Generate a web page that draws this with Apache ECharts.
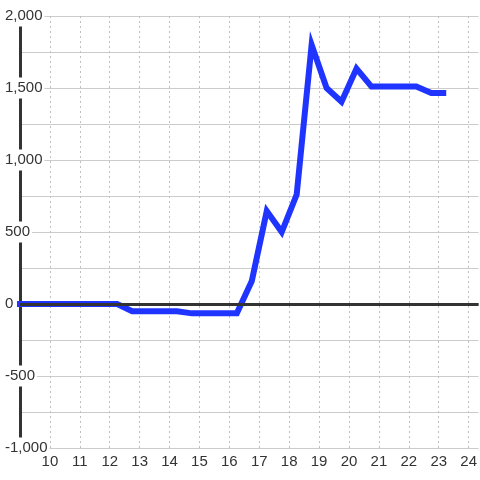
<!DOCTYPE html>
<html>
<head>
<meta charset="utf-8">
<script src="https://cdn.jsdelivr.net/npm/echarts@6/dist/echarts.min.js"></script>
<style>
  html, body { margin: 0; padding: 0; background: #fff; }
  #chart { width: 480px; height: 480px; }
</style>
</head>
<body>
<div id="chart"></div>
<script>
// 横轴: 时刻 (半小时一个点)
const hours = [8.75, 9.25, 9.75, 10.25, 10.75, 11.25, 11.75, 12.25, 12.75, 13.25, 13.75,
  14.25, 14.75, 15.25, 15.75, 16.25, 16.75, 17.25, 17.75, 18.25, 18.75, 19.25,
  19.75, 20.25, 20.75, 21.25, 21.75, 22.25, 22.75, 23.25]
const values = [0, 0, 0, 0, 0, 0, 0, 0, -50, -50, -50,
  -50, -65, -65, -65, -65, 160, 645, 500, 760, 1800, 1500,
  1405, 1635, 1510, 1510, 1510, 1510, 1465, 1465]
const xTicks = [10, 11, 12, 13, 14, 15, 16, 17, 18, 19, 20, 21, 22, 23, 24]
const yTicks = [-1000, -500, 0, 500, 1000, 1500, 2000]

const data = hours.map((h, i) => [h, values[i]])

const chart = echarts.init(document.getElementById('chart'))
const option = {
  animation: false,
  grid: { left: 20, right: 0, top: 16, bottom: 32, containLabel: false },
  xAxis: {
    type: 'value',
    min: 9,
    max: 24.333,
    interval: 1,
    axisLine: { show: false },
    axisTick: { show: false },
    axisLabel: {
      color: '#333',
      fontSize: 15,
      fontFamily: 'Liberation Sans, Arial, sans-serif',
      margin: 6,
      showMinLabel: false,
      showMaxLabel: false,
      formatter: v => (xTicks.indexOf(v) >= 0 ? String(v) : '')
    },
    splitLine: {
      show: true,
      showMinLine: false,
      showMaxLine: false,
      lineStyle: { color: '#c0c0c0', type: [2, 3], width: 1 }
    }
  },
  yAxis: {
    type: 'value',
    min: -1000,
    max: 2000,
    interval: 500,
    axisLine: { show: true, lineStyle: { color: '#333', width: 3 } },
    axisTick: { show: false },
    axisLabel: {
      inside: true,
      margin: -15,
      color: '#333',
      fontSize: 15,
      fontFamily: 'Liberation Sans, Arial, sans-serif',
      backgroundColor: '#fff',
      padding: [5, 2, 1, 0],
      formatter: v => (yTicks.indexOf(v) >= 0 ? v.toLocaleString('en-US') : '')
    },
    splitLine: { show: true, lineStyle: { color: '#cccccc', width: 1 } },
    minorTick: { show: false, splitNumber: 2 },
    minorSplitLine: { show: true, lineStyle: { color: '#cccccc', width: 1 } }
  },
  series: [
    {
      // 零线
      type: 'line',
      data: [],
      z: 1,
      silent: true,
      markLine: {
        silent: true,
        symbol: 'none',
        label: { show: false },
        lineStyle: { color: '#333', width: 3, type: 'solid' },
        data: [{ yAxis: 0 }]
      }
    },
    {
      type: 'line',
      data: data,
      z: 3,
      showSymbol: false,
      clip: true,
      lineStyle: { color: '#1f35ff', width: 6, join: 'miter' }
    }
  ]
}
chart.setOption(option)
</script>
</body>
</html>
